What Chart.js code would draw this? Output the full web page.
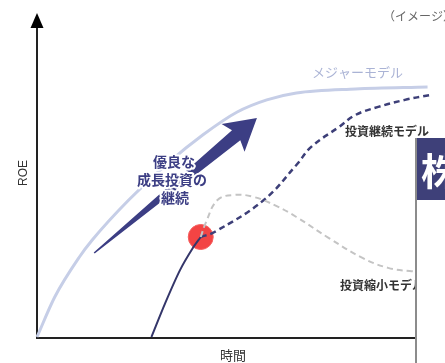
<!DOCTYPE html>
<html>
<head>
<meta charset="utf-8">
<script src="https://cdn.jsdelivr.net/npm/chart.js@4"></script>
<style>
  html, body { margin: 0; padding: 0; background: #fff; }
  canvas { display: block; }
</style>
</head>
<body>
<canvas id="roeChart" width="445" height="363"></canvas>
<script>
// time (0-100) vs ROE (0-100)
const majorX = [0, 4.5, 10.75, 14, 23.25, 33.25, 42, 50.75, 58.25, 65.75, 80.75, 99];
const majorY = [0, 12.5, 25, 30.3, 42.8, 54.4, 63.1, 70.3, 74.1, 76.25, 77.5, 78.1];
const baseX = [29, 32.5, 36.25, 39.5, 41.5];
const baseY = [0, 10.6, 20.9, 27.8, 31.25];
const keepX = [41.5, 45, 57.5, 65.75, 69.5, 76.5, 80.75, 86.5, 93.25, 99.5];
const keepY = [31.25, 32.8, 42.8, 53.75, 59.4, 65.6, 69.4, 71.9, 74.1, 75.6];
const shrinkX = [41.5, 42.75, 45.75, 50, 55, 60.75, 65.75, 74, 82.5, 89, 94.5, 99.5];
const shrinkY = [31.25, 35.6, 42.8, 44.4, 43.75, 40.9, 37.5, 30.9, 24.7, 21.6, 20.6, 20.3];
const pivotX = [41.5];
const pivotY = [31.25];
const arrowX = [14.5, 55.75];
const arrowY = [26.25, 68.4];

const JP = '"Noto Sans CJK JP", "Noto Sans", sans-serif';
const NAVY = "#3c3e84";

const pts = (xs, ys) => xs.map((x, i) => ({ x, y: ys[i] }));

const conceptPlugin = {
  id: "conceptPlugin",
  beforeDatasetsDraw(chart) {
    const { ctx, scales } = chart;
    const x = scales.x, y = scales.y;
    // axes
    ctx.save();
    ctx.strokeStyle = "#222";
    ctx.lineWidth = 2;
    const x0 = x.getPixelForValue(0), y0 = y.getPixelForValue(0);
    ctx.beginPath();
    ctx.moveTo(x0, 26);
    ctx.lineTo(x0, y0 + 1);
    ctx.lineTo(415, y0 + 1);
    ctx.stroke();
    ctx.fillStyle = "#000";
    ctx.beginPath();
    ctx.moveTo(x0, 13);
    ctx.lineTo(x0 - 6.5, 28);
    ctx.lineTo(x0 + 6.5, 28);
    ctx.closePath();
    ctx.fill();

    // big growth arrow
    const tx = x.getPixelForValue(arrowX[0]), ty = y.getPixelForValue(arrowY[0]);
    const hx = x.getPixelForValue(arrowX[1]), hy = y.getPixelForValue(arrowY[1]);
    const ang = Math.atan2(hy - ty, hx - tx);
    const len = Math.hypot(hx - tx, hy - ty);
    const headLen = 27, shaftW = 13, headW = 36;
    ctx.translate(tx, ty);
    ctx.rotate(ang);
    ctx.fillStyle = NAVY;
    ctx.beginPath();
    ctx.moveTo(0, -0.8);
    ctx.lineTo(len - headLen, -shaftW / 2);
    ctx.lineTo(len - headLen - 4, -headW / 2);
    ctx.lineTo(len, 0);
    ctx.lineTo(len - headLen - 4, headW / 2);
    ctx.lineTo(len - headLen, shaftW / 2);
    ctx.lineTo(0, 0.8);
    ctx.closePath();
    ctx.fill();
    ctx.restore();
  },
  afterDatasetsDraw(chart) {
    const { ctx } = chart;
    ctx.save();
    ctx.textBaseline = "middle";
    ctx.textAlign = "center";

    // outlined callout text
    ctx.font = `bold 14px ${JP}`;
    ctx.lineJoin = "round";
    ctx.lineWidth = 4;
    ctx.strokeStyle = "#fff";
    ctx.fillStyle = NAVY;
    [["優良な", 174, 162], ["成長投資の", 172, 180], ["継続", 175, 198]].forEach(([t, px, py]) => {
      ctx.strokeText(t, px, py);
      ctx.fillText(t, px, py);
    });

    // series labels
    ctx.textAlign = "left";
    ctx.font = `13px ${JP}`;
    ctx.fillStyle = "#aab3d5";
    ctx.fillText("メジャーモデル", 312, 72);
    ctx.font = `bold 12px ${JP}`;
    ctx.fillStyle = "#333";
    ctx.fillText("投資継続モデル", 345, 131);
    ctx.fillText("投資縮小モデル", 340, 285);

    ctx.font = `12px ${JP}`;
    ctx.fillStyle = "#666";
    ctx.fillText("（イメージ）", 383, 16);

    ctx.fillStyle = "#333";
    ctx.font = `13px ${JP}`;
    ctx.textAlign = "center";
    ctx.fillText("時間", 233, 355);
    ctx.translate(24, 173);
    ctx.rotate(-Math.PI / 2);
    ctx.font = `12px "Liberation Sans", Arial, sans-serif`;
    ctx.fillText("ROE", 0, 0);
    ctx.restore();

    // cropped side panel
    ctx.save();
    ctx.fillStyle = "#fff";
    ctx.fillRect(415, 138, 30, 225);
    ctx.fillStyle = "#3e4079";
    ctx.fillRect(415, 138, 30, 62);
    ctx.strokeStyle = "#8c8c8c";
    ctx.lineWidth = 2;
    ctx.beginPath();
    ctx.moveTo(416, 138);
    ctx.lineTo(416, 363);
    ctx.stroke();
    ctx.fillStyle = "#fff";
    ctx.font = `bold 38px ${JP}`;
    ctx.textBaseline = "middle";
    ctx.textAlign = "left";
    ctx.fillText("株", 421, 171);
    ctx.restore();
  },
};

new Chart(document.getElementById("roeChart"), {
  type: "scatter",
  data: {
    datasets: [
      { data: pts(majorX, majorY), showLine: true, borderColor: "#c6cee7", borderWidth: 3, pointRadius: 0, cubicInterpolationMode: "monotone" },
      { data: pts(shrinkX, shrinkY), showLine: true, borderColor: "#c4c4c4", borderWidth: 2, borderDash: [6, 4], pointRadius: 0, tension: 0.4 },
      { data: pts(keepX, keepY), showLine: true, borderColor: "#3d3f78", borderWidth: 2.5, borderDash: [6, 4], pointRadius: 0, tension: 0.4 },
      { data: pts(baseX, baseY), showLine: true, borderColor: "#34366a", borderWidth: 2, pointRadius: 0, tension: 0.3 },
      { data: pts(pivotX, pivotY), pointRadius: 12.5, pointBackgroundColor: "#f34444", pointBorderColor: "#f56060", pointBorderWidth: 1 },
    ],
  },
  options: {
    responsive: false,
    devicePixelRatio: 1,
    animation: false,
    layout: { padding: { left: 37, right: 8, top: 17, bottom: 26 } },
    plugins: { legend: { display: false }, tooltip: { enabled: false } },
    scales: {
      x: { type: "linear", min: 0, max: 100, display: false },
      y: { type: "linear", min: 0, max: 100, display: false },
    },
    elements: { line: { fill: false } },
    datasets: { scatter: { clip: false } },
  },
  plugins: [conceptPlugin],
});
</script>
</body>
</html>
